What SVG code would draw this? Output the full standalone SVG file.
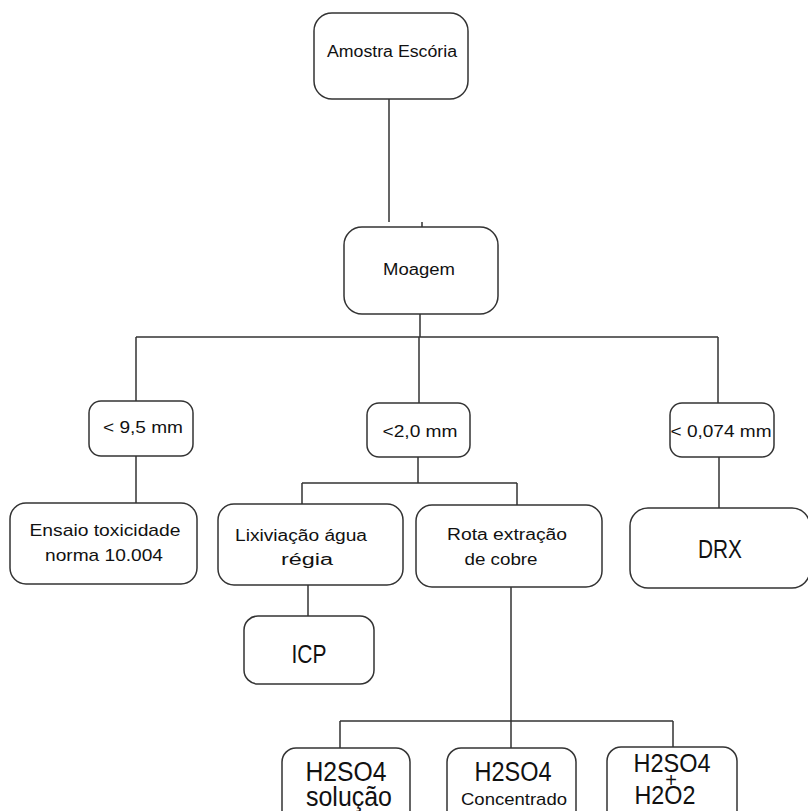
<svg xmlns="http://www.w3.org/2000/svg" width="808" height="811" viewBox="0 0 808 811">
<style>
  .box { fill: #ffffff; stroke: #333333; stroke-width: 1.5; }
  .ln { fill: none; stroke: #333333; stroke-width: 1.5; }
  text { font-family: "Liberation Sans", Arial, sans-serif; fill: #111111; text-anchor: middle; }
  .t16 { font-size: 16px; }
  .t17 { font-size: 17px; }
  .big { font-size: 25px; }
  .h { font-size: 27px; }
</style>
<rect width="808" height="811" fill="#ffffff"/>
<g id="connectors">
  <path class="ln" d="M389 99 V222 M422 222 V227"/>
  <path class="ln" d="M420 314 V337 M136 337 H718 M136 337 V401 M419 337 V403 M718 337 V403"/>
  <path class="ln" d="M136 456 V503"/>
  <path class="ln" d="M418 457 V483 M302 483 H517 M302 483 V504 M517 483 V505"/>
  <path class="ln" d="M719 457 V508"/>
  <path class="ln" d="M308 585 V616"/>
  <path class="ln" d="M511 587 V721 M340 721 H673 M340 721 V748 M511 721 V748 M673 721 V747"/>
</g>
<g id="amostra">
  <rect class="box" x="314" y="13" width="154" height="86" rx="18"/>
  <text class="t16" x="392" y="57" textLength="130" lengthAdjust="spacingAndGlyphs">Amostra Escória</text>
</g>
<g id="moagem">
  <rect class="box" x="344" y="227" width="154" height="87" rx="18"/>
  <text class="t16" x="419" y="275" textLength="72" lengthAdjust="spacingAndGlyphs">Moagem</text>
</g>
<g id="n95">
  <rect class="box" x="89" y="401" width="104" height="55" rx="12"/>
  <text class="t16" x="143" y="433" textLength="80" lengthAdjust="spacingAndGlyphs">&lt; 9,5 mm</text>
</g>
<g id="n20">
  <rect class="box" x="367" y="403" width="103" height="54" rx="12"/>
  <text class="t16" x="420" y="437" textLength="75" lengthAdjust="spacingAndGlyphs">&lt;2,0 mm</text>
</g>
<g id="n0074">
  <rect class="box" x="670" y="403" width="104" height="54" rx="12"/>
  <text class="t16" x="721" y="437" textLength="101" lengthAdjust="spacingAndGlyphs">&lt; 0,074 mm</text>
</g>
<g id="ensaio">
  <rect class="box" x="10" y="503" width="187" height="81" rx="16"/>
  <text class="t17" x="105" y="536" textLength="151" lengthAdjust="spacingAndGlyphs">Ensaio toxicidade</text>
  <text class="t17" x="104" y="561" textLength="118" lengthAdjust="spacingAndGlyphs">norma 10.004</text>
</g>
<g id="lixiviacao">
  <rect class="box" x="218" y="504" width="185" height="81" rx="16"/>
  <text class="t16" x="301" y="541" textLength="132" lengthAdjust="spacingAndGlyphs">Lixiviação água</text>
  <text class="t16" x="307" y="565" textLength="52" lengthAdjust="spacingAndGlyphs">régia</text>
</g>
<g id="rota">
  <rect class="box" x="416" y="505" width="186" height="82" rx="16"/>
  <text class="t16" x="507" y="540" textLength="120" lengthAdjust="spacingAndGlyphs">Rota extração</text>
  <text class="t16" x="501" y="565" textLength="73" lengthAdjust="spacingAndGlyphs">de cobre</text>
</g>
<g id="drx">
  <rect class="box" x="630" y="508" width="180" height="80" rx="18"/>
  <text class="big" x="720" y="558" textLength="44" lengthAdjust="spacingAndGlyphs">DRX</text>
</g>
<g id="icp">
  <rect class="box" x="244" y="616" width="130" height="68" rx="14"/>
  <text x="309" y="663" style="font-size:26px" textLength="35" lengthAdjust="spacingAndGlyphs">ICP</text>
</g>
<g id="h2so4-solucao">
  <rect class="box" x="282" y="748" width="128" height="90" rx="14"/>
  <text class="h" x="346" y="781" textLength="81" lengthAdjust="spacingAndGlyphs">H2SO4</text>
  <text class="h" x="349" y="806" textLength="86" lengthAdjust="spacingAndGlyphs">solução</text>
</g>
<g id="h2so4-concentrado">
  <rect class="box" x="447" y="748" width="129" height="90" rx="14"/>
  <text class="h" x="513" y="781" textLength="77" lengthAdjust="spacingAndGlyphs">H2SO4</text>
  <text class="t17" x="514" y="805" textLength="106" lengthAdjust="spacingAndGlyphs">Concentrado</text>
</g>
<g id="h2so4-h2o2">
  <rect class="box" x="607" y="747" width="130" height="90" rx="14"/>
  <text x="672" y="772" style="font-size:25px" textLength="77" lengthAdjust="spacingAndGlyphs">H2SO4</text>
  <text x="671" y="787" style="font-size:20px">+</text>
  <text x="665" y="804" style="font-size:25px" textLength="61" lengthAdjust="spacingAndGlyphs">H2O2</text>
</g>
</svg>
